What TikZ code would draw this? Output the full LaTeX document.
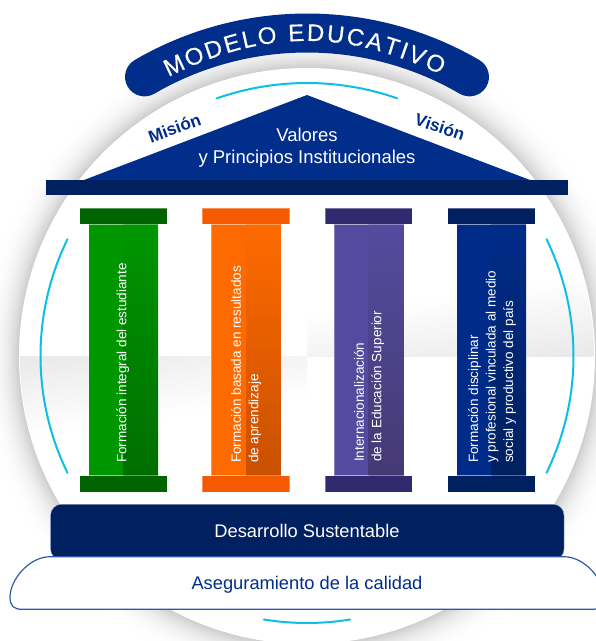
\documentclass[tikz,border=0pt]{standalone}
\usepackage{fontspec}
\setmainfont{Liberation Sans}
\newfontfamily\titlefont[FakeBold=0.35]{Liberation Sans}
\usetikzlibrary{decorations.text,calc}
\definecolor{bannerblue}{HTML}{012E8B}
\definecolor{navybar}{HTML}{00205F}
\definecolor{cyanarc}{HTML}{0DBFE3}
\definecolor{pillring}{HTML}{2F58A6}
\definecolor{bandgray}{HTML}{E9E9E9}
\definecolor{greenA}{HTML}{009600}
\definecolor{greenB}{HTML}{006E00}
\definecolor{greenC}{HTML}{006400}
\definecolor{orangeA}{HTML}{FF6A00}
\definecolor{orangeB}{HTML}{C85000}
\definecolor{orangeC}{HTML}{F55A00}
\definecolor{purpleA}{HTML}{544B9F}
\definecolor{purpleB}{HTML}{453A73}
\definecolor{purpleC}{HTML}{322A6E}
\definecolor{navyA}{HTML}{002B88}
\definecolor{navyB}{HTML}{00205F}
\definecolor{navyC}{HTML}{00205F}
\tikzset{
  pillartext/.style={rotate=90,anchor=west,align=left,text=white,font=\fontsize{13.5}{17.5}\selectfont,inner sep=0pt},
  arcline/.style={draw=cyanarc,line width=2pt,line cap=round},
  headtext/.style={text=white,font=\fontsize{18.5}{21.5}\selectfont,align=center,inner sep=0pt},
  sidetext/.style={text=bannerblue,font=\fontsize{17.2}{20}\selectfont\bfseries,inner sep=0pt},
}
\newcommand{\pillar}[5]{%
  \fill[#2,draw=white,draw opacity=.3,line width=.5pt] (#1,224) rectangle ++(69.5,251.7);
  \shade[top color=#2,middle color=#2!#5!#3,bottom color=#3] ({#1+34.7},224) rectangle ({#1+69.5},475.7);
  \fill[#4,draw=white,draw opacity=.35,line width=.5pt] ({#1-9},208) rectangle ({#1+78.3},224);
  \fill[#4,draw=white,draw opacity=.35,line width=.5pt] ({#1-9},475.7) rectangle ({#1+78.3},492);
}
\newcommand{\ringarc}[3]{%
  \draw[arcline] plot[domain={#3-#2}:{#3+#2},samples=40,smooth] ({307+#1*sin(\x)},{356-#1*cos(\x)});
}
\begin{document}
\begin{tikzpicture}[x=1pt,y=-1pt]
\useasboundingbox (0,0) rectangle (596,641);
\clip (0,0) rectangle (596,641);
\foreach \r in {45,44,...,0}{
  \pgfmathsetmacro{\gv}{0.8+0.2*(1-(1-\r/45)^3)}
  \definecolor{halotone}{gray}{\gv}
  \fill[halotone] (307,356) circle[radius={(288+\r)*1pt}];
}
\fill[white] (307,356) circle[radius=288pt];
\begin{scope}
  \clip (307,356) circle[radius=287pt];
  \begin{scope}
    \clip (0,356) rectangle (307,480);
    \foreach \i in {0,...,39}{
      \pgfmathsetmacro{\mixv}{100-2.5*\i}
      \fill[bandgray!\mixv!white,rotate around={8:(19,356)}] (-20,{356+2*\i}) rectangle (360,{358.4+2*\i});
    }
  \end{scope}
  \begin{scope}
    \clip (307,230) rectangle (596,356);
    \foreach \i in {0,...,39}{
      \pgfmathsetmacro{\mixv}{100-2.5*\i}
      \fill[bandgray!\mixv!white,rotate around={8:(595,356)}] (250,{356-2*\i}) rectangle (620,{353.6-2*\i});
    }
  \end{scope}
\end{scope}
\draw[draw=bannerblue,line width=39pt,line cap=round] plot[domain=-30.2:30.2,samples=60,smooth] ({307+323*sin(\x)},{356-323*cos(\x)});
\coordinate (titleL) at ({307-311.5*sin(26.4)},{356-311.5*cos(26.4)});
\coordinate (titleR) at ({307+311.5*sin(25.4)},{356-311.5*cos(25.4)});
\path[decorate,decoration={text along path,
   text={|\titlefont\fontsize{24}{24}\selectfont\color{white}|MODELO EDUCATIVO},
   text align={fit to path}}]
   (titleL) to[bend left=25.9] (titleR);
\ringarc{273}{19.3}{0}
\ringarc{266.5}{26}{-90}
\ringarc{266.5}{26}{90}
\ringarc{267}{9.3}{180}
\fill[bannerblue] (307,95) -- (530,180) -- (84,180) -- cycle;
\fill[navybar] (46,180) rectangle (568,195);
\node[headtext,anchor=base] (valores) at (307,141.7) {Valores};
\node[headtext,anchor=base] (principios) at (307,163.3) {y Principios Institucionales};
\node[sidetext,rotate=20] (mision) at (174.5,128) {Misión};
\node[sidetext,rotate=-18] (vision) at (440,127) {Visión};
\pillar{88.7}{greenA}{greenB}{greenC}{70}
\pillar{211.3}{orangeA}{orangeB}{orangeC}{88}
\pillar{334}{purpleA}{purpleB}{purpleC}{75}
\pillar{456.7}{navyA}{navyB}{navyC}{75}
\node[pillartext] (p1) at (122.7,463) {Formación integral del estudiante};
\node[pillartext] (p2) at (246,463) {Formación basada en resultados\\de aprendizaje};
\node[pillartext] (p3) at (369,462) {Internacionalización\\de la Educación Superior};
\node[pillartext] (p4) at (492,463) {Formación disciplinar\\y profesional vinculada al medio\\social y productivo del país};
\fill[navybar,draw=pillring!60,line width=.3pt,rounded corners=11pt] (50.6,560) -- (50.6,504.3) -- (564,504.3) -- (564,560) -- cycle;
\filldraw[fill=white,draw=pillring,line width=1.2pt]
  (50,556.7) -- (564,556.7) .. controls (585,556.7) and (604,580) .. (604,597)
  .. controls (604,606) and (600,609.3) .. (592,609.3) -- (22,609.3)
  .. controls (14,609.3) and (10,606) .. (10,597) .. controls (10,580) and (29,556.7) .. (50,556.7) -- cycle;
\node[anchor=base,text=white,font=\fontsize{18.3}{20}\selectfont,inner sep=0pt] (desarrollo) at (307,537.7) {Desarrollo Sustentable};
\node[anchor=base,text=bannerblue,font=\fontsize{18.3}{20}\selectfont,inner sep=0pt] (aseguramiento) at (307,589) {Aseguramiento de la calidad};
\end{tikzpicture}
\end{document}
